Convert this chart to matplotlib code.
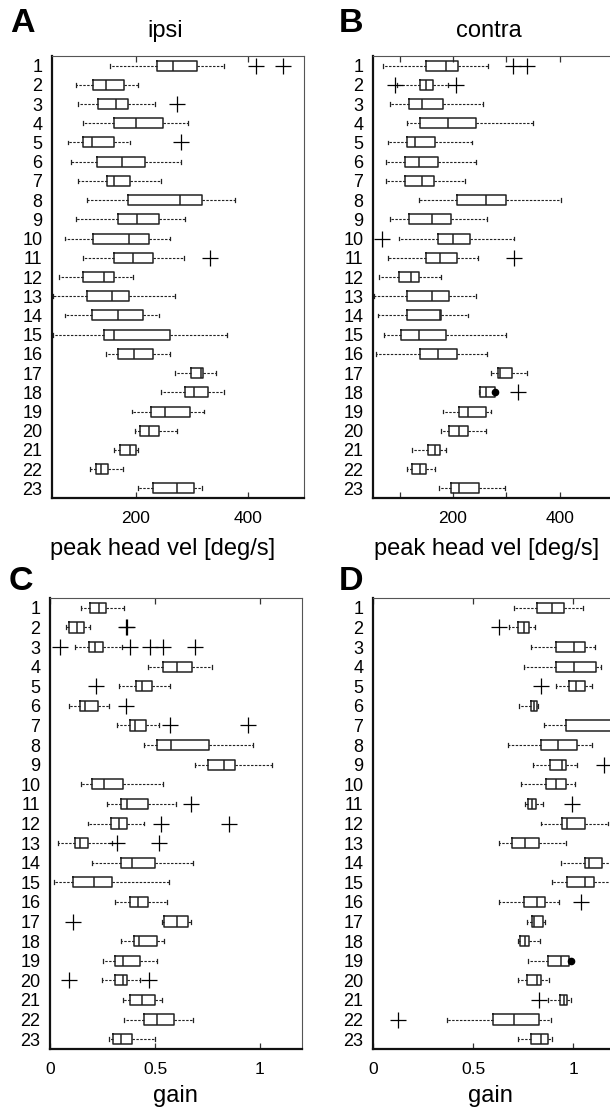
import matplotlib
matplotlib.use("Agg")
import matplotlib.pyplot as plt

plt.rcParams['font.family'] = ['Liberation Sans', 'DejaVu Sans']

W, H = 610, 1110
rows = list(range(1, 24))

# --- A: ipsi, peak head velocity [deg/s] ---
ipsi_vel_wlo = [154, 92, 96, 106, 78, 84, 96, 113, 92, 73, 106, 62, 52, 73, 52, 146, 270, 245, 193, 198, 160, 117, 204]
ipsi_vel_q1 = [237, 124, 132, 161, 106, 131, 149, 186, 168, 124, 161, 106, 113, 121, 143, 168, 299, 288, 226, 208, 172, 128, 230]
ipsi_vel_med = [266, 146, 165, 200, 121, 175, 161, 278, 201, 187, 194, 142, 158, 168, 161, 197, 316, 303, 252, 223, 190, 137, 273]
ipsi_vel_q3 = [309, 179, 186, 249, 161, 216, 190, 318, 241, 223, 230, 161, 187, 213, 260, 230, 320, 328, 296, 241, 200, 150, 303]
ipsi_vel_whi = [357, 204, 234, 293, 189, 281, 245, 376, 288, 260, 285, 195, 270, 241, 362, 260, 343, 358, 321, 273, 204, 176, 317]
ipsi_vel_fliers = {1: [415, 463], 3: [273], 5: [281], 11: [333]}
ipsi_vel_dots = {}

# --- B: contra, peak head velocity [deg/s] ---
contra_vel_wlo = [69, 95, 81, 114, 78, 74, 74, 136, 81, 99, 78, 61, 51, 60, 71, 56, 271, 248, 181, 178, 124, 114, 174]
contra_vel_q1 = [149, 139, 117, 139, 114, 110, 110, 208, 117, 171, 149, 99, 114, 114, 103, 139, 285, 250, 211, 193, 153, 124, 196]
contra_vel_med = [186, 150, 142, 190, 128, 136, 142, 261, 161, 200, 175, 122, 161, 176, 136, 172, 289, 261, 229, 211, 167, 139, 211]
contra_vel_q3 = [210, 163, 182, 243, 167, 171, 164, 299, 196, 232, 207, 136, 193, 178, 186, 208, 311, 278, 261, 229, 175, 150, 249]
contra_vel_whi = [266, 191, 257, 350, 236, 244, 222, 403, 264, 315, 246, 178, 244, 229, 300, 264, 339, 278, 271, 261, 186, 167, 297]
contra_vel_fliers = {1: [312, 338], 2: [92, 206], 10: [67], 11: [314], 18: [322]}
contra_vel_dots = {18: 279}

# --- C: ipsi gain ---
ipsi_gain_wlo = [0.146, 0.075, 0.119, 0.465, 0.329, 0.09, 0.317, 0.448, 0.690, 0.148, 0.273, 0.183, 0.037, 0.198, 0.019, 0.31, 0.535, 0.337, 0.254, 0.246, 0.346, 0.354, 0.281]
ipsi_gain_q1 = [0.19, 0.09, 0.186, 0.537, 0.41, 0.144, 0.381, 0.508, 0.754, 0.202, 0.337, 0.290, 0.119, 0.337, 0.108, 0.381, 0.544, 0.402, 0.31, 0.31, 0.383, 0.446, 0.302]
ipsi_gain_med = [0.235, 0.127, 0.214, 0.603, 0.437, 0.167, 0.405, 0.575, 0.830, 0.257, 0.365, 0.329, 0.143, 0.392, 0.211, 0.421, 0.603, 0.422, 0.349, 0.349, 0.438, 0.51, 0.337]
ipsi_gain_q3 = [0.267, 0.163, 0.253, 0.675, 0.484, 0.23, 0.456, 0.756, 0.881, 0.346, 0.465, 0.365, 0.183, 0.502, 0.294, 0.465, 0.656, 0.511, 0.429, 0.365, 0.502, 0.59, 0.392]
ipsi_gain_whi = [0.352, 0.19, 0.341, 0.770, 0.573, 0.281, 0.521, 0.965, 1.059, 0.537, 0.6, 0.448, 0.294, 0.683, 0.568, 0.556, 0.671, 0.544, 0.511, 0.429, 0.532, 0.683, 0.502]
ipsi_gain_fliers = {2: [0.362, 0.368], 3: [0.05, 0.381, 0.476, 0.538, 0.690], 5: [0.219], 6: [0.362],
                    7: [0.571, 0.944], 11: [0.671], 12: [0.527, 0.854], 13: [0.317, 0.521],
                    17: [0.108], 20: [0.092, 0.471]}
ipsi_gain_dots = {}

# --- D: contra gain ---
contra_gain_wlo = [0.703, 0.682, 0.79, 0.753, 0.915, 0.732, 0.857, 0.675, 0.8, 0.742, 0.762, 0.838, 0.628, 0.94, 0.895, 0.628, 0.77, 0.725, 0.777, 0.723, 0.873, 0.37, 0.723]
contra_gain_q1 = [0.82, 0.725, 0.915, 0.915, 0.978, 0.79, 0.963, 0.838, 0.887, 0.867, 0.773, 0.945, 0.695, 1.058, 0.97, 0.753, 0.795, 0.733, 0.873, 0.77, 0.937, 0.598, 0.79]
contra_gain_med = [0.895, 0.753, 1.003, 1.003, 1.015, 0.803, 1.25, 0.925, 0.945, 0.915, 0.795, 0.97, 0.762, 1.082, 1.058, 0.82, 0.803, 0.762, 0.94, 0.82, 0.953, 0.707, 0.838]
contra_gain_q3 = [0.953, 0.778, 1.058, 1.115, 1.058, 0.82, 1.35, 1.02, 0.965, 0.965, 0.817, 1.058, 0.832, 1.145, 1.107, 0.858, 0.848, 0.782, 0.982, 0.84, 0.97, 0.832, 0.875]
contra_gain_whi = [1.048, 0.812, 1.108, 1.142, 1.095, 0.823, 1.45, 1.095, 1.02, 1.008, 0.848, 1.175, 0.965, 1.22, 1.22, 0.928, 0.858, 0.833, 0.982, 0.878, 0.99, 0.89, 0.895]
contra_gain_fliers = {2: [0.628], 5: [0.838], 9: [1.153], 11: [0.995], 16: [1.038], 21: [0.828], 22: [0.123]}
contra_gain_dots = {19: 0.988}


def fig_rect(left, top, right, bottom):
    # pixel box -> figure fraction rect
    return [left / W, 1 - bottom / H, (right - left) / W, (bottom - top) / H]


def make_stats(wlo, q1, med, q3, whi, fliers):
    out = []
    for i, r in enumerate(rows):
        out.append(dict(whislo=wlo[i], q1=q1[i], med=med[i], q3=q3[i], whishi=whi[i],
                        fliers=fliers.get(r, []), label=str(r)))
    return out


def draw_panel(ax, stats, dots, xlim, xticks, xticklabels):
    ink = '#222222'
    ax.bxp(stats, positions=rows, widths=0.52, capwidths=0.2, orientation='horizontal',
           manage_ticks=False,
           boxprops=dict(color=ink, linewidth=1.1),
           medianprops=dict(color=ink, linewidth=1.1),
           whiskerprops=dict(color=ink, linewidth=0.8, linestyle=(0, (2.2, 1.3))),
           capprops=dict(color=ink, linewidth=0.9),
           flierprops=dict(marker='+', markersize=11, markeredgewidth=0.9,
                           markeredgecolor='black', linestyle='none'))
    for r, v in dots.items():
        ax.plot([v], [r], 'o', color='black', markersize=4.5)
    ax.set_xlim(*xlim)
    ax.set_ylim(23.5, 0.5)
    ax.set_yticks(rows)
    ax.set_yticklabels([str(r) for r in rows])
    ax.tick_params(axis='y', length=0, pad=7, labelsize=13)
    ax.set_xticks(xticks)
    ax.set_xticklabels(xticklabels)
    ax.tick_params(axis='x', direction='in', top=True, length=4, width=0.9,
                   pad=9, labelsize=12.5, color='#333333')
    for side in ('left', 'bottom'):
        ax.spines[side].set_linewidth(1.6)
        ax.spines[side].set_color('#111111')
    for side in ('top', 'right'):
        ax.spines[side].set_linewidth(0.8)
        ax.spines[side].set_color('#555555')


fig = plt.figure(figsize=(W / 100, H / 100), dpi=100)

axA = fig.add_axes(fig_rect(52, 56, 304, 498))
axB = fig.add_axes(fig_rect(373, 56, 613, 498))
axC = fig.add_axes(fig_rect(50, 598, 302, 1049))
axD = fig.add_axes(fig_rect(373, 598, 613, 1049))

draw_panel(axA, make_stats(ipsi_vel_wlo, ipsi_vel_q1, ipsi_vel_med, ipsi_vel_q3, ipsi_vel_whi, ipsi_vel_fliers),
           ipsi_vel_dots, (50, 500), [200, 400], ['200', '400'])
draw_panel(axB, make_stats(contra_vel_wlo, contra_vel_q1, contra_vel_med, contra_vel_q3, contra_vel_whi, contra_vel_fliers),
           contra_vel_dots, (50, 500), [100, 200, 300, 400], ['', '200', '', '400'])
draw_panel(axC, make_stats(ipsi_gain_wlo, ipsi_gain_q1, ipsi_gain_med, ipsi_gain_q3, ipsi_gain_whi, ipsi_gain_fliers),
           ipsi_gain_dots, (0, 1.2), [0, 0.5, 1], ['0', '0.5', '1'])
draw_panel(axD, make_stats(contra_gain_wlo, contra_gain_q1, contra_gain_med, contra_gain_q3, contra_gain_whi, contra_gain_fliers),
           contra_gain_dots, (0, 1.2), [0, 0.5, 1], ['0', '0.5', '1'])


def ftext(x, y, s, **kw):
    fig.text(x / W, 1 - y / H, s, ha='center', va='center', **kw)


# panel letters
for x, y, s in [(22, 24, 'A'), (351, 24, 'B'), (21, 582, 'C'), (351, 582, 'D')]:
    ftext(x, y, s, fontsize=24.5, fontweight='bold')

# titles and axis labels
ftext(165, 31, 'ipsi', fontsize=17)
ftext(489, 31, 'contra', fontsize=17)
ftext(163, 549, 'peak head vel [deg/s]', fontsize=17)
ftext(487, 549, 'peak head vel [deg/s]', fontsize=17)
ftext(175, 1096, 'gain', fontsize=17)
ftext(490, 1096, 'gain', fontsize=17)

fig.savefig('out.png', dpi=100)
